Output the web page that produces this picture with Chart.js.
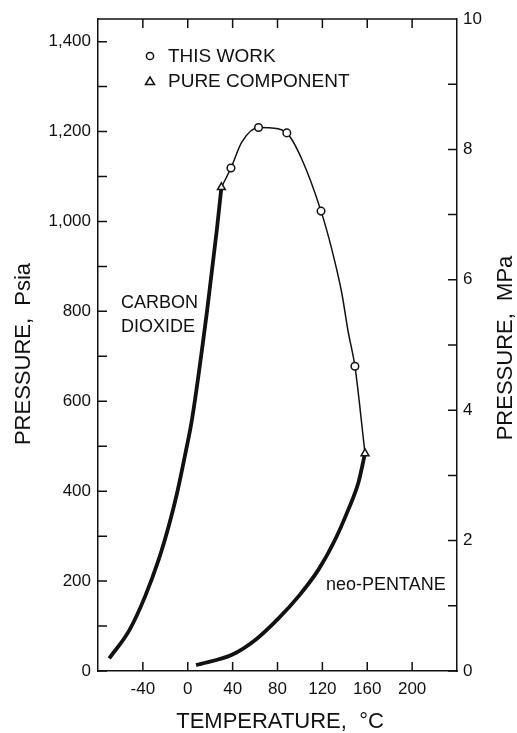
<!DOCTYPE html>
<html><head><meta charset="utf-8">
<script src="https://cdn.jsdelivr.net/npm/chart.js@4.4.1/dist/chart.umd.min.js"></script>
<style>html,body{margin:0;padding:0;background:#fff;} #wrap{width:517px;height:733px;}</style>
</head><body><div id="wrap"><canvas id="c" width="517" height="733"></canvas></div>
<script>
const tempTicks = [-40, 0, 40, 80, 120, 160, 200];
const psiTicks = [0, 200, 400, 600, 800, 1000, 1200, 1400];
const psiMinorTicks = [100, 300, 500, 700, 900, 1100, 1300];
const mpaTicks = [0, 2, 4, 6, 8, 10];
const mpaMinorTicks = [1, 3, 5, 7, 9];

// Carbon dioxide vapour pressure (°C, psia)
const co2T = [-70, -52, -38, -26, -17, -9.5, -2, 3.8, 17.2, 26, 30];
const co2P = [28, 91, 166, 247, 322, 396, 485, 560, 801, 983, 1076];
// neo-Pentane vapour pressure
const neoT = [7.4, 39.4, 60.2, 80.9, 98.7, 116.4, 131.3, 143.1, 152, 158];
const neoP = [13, 36, 69, 117, 166, 225, 292, 359, 418, 484];
// Critical locus (thin line)
const envT = [30, 38.5, 48.3, 63.1, 74.9, 88.3, 101.6, 118.8, 128.3, 137.2, 143.1, 149, 158];
const envP = [1076, 1119, 1177, 1209, 1208, 1197, 1139, 1023, 939, 842, 753, 678, 484];
// Markers
const workT = [38.5, 63.1, 88.3, 118.8, 149];
const workP = [1119, 1209, 1197, 1023, 678];
const pureT = [30, 158];
const pureP = [1076, 484];

const PSI_PER_MPA = 145.0377;
const FONT = "'Liberation Sans', Arial, Helvetica, sans-serif";
const INK = '#111';

const pts = (xs, ys) => xs.map((v, i) => ({x: v, y: ys[i]}));

const framePlugin = {
  id: 'frame',
  afterDraw(chart) {
    const {ctx, chartArea: a, scales: {x, y, y2}} = chart;
    ctx.save();
    ctx.strokeStyle = INK;
    ctx.lineWidth = 1.5;
    ctx.beginPath();
    ctx.moveTo(a.left, a.top); ctx.lineTo(a.right, a.top);
    const L = 9;
    tempTicks.forEach(v => {
      const px = x.getPixelForValue(v);
      ctx.moveTo(px, a.bottom); ctx.lineTo(px, a.bottom - L);
      ctx.moveTo(px, a.top); ctx.lineTo(px, a.top + L);
    });
    psiTicks.concat(psiMinorTicks).forEach(v => {
      const py = y.getPixelForValue(v);
      ctx.moveTo(a.left, py); ctx.lineTo(a.left + L, py);
    });
    mpaTicks.concat(mpaMinorTicks).forEach(v => {
      const py = y2.getPixelForValue(v);
      ctx.moveTo(a.right, py); ctx.lineTo(a.right - L, py);
    });
    ctx.stroke();

    ctx.fillStyle = INK;
    // in-plot labels
    ctx.font = '18px ' + FONT;
    ctx.textAlign = 'left';
    ctx.textBaseline = 'alphabetic';
    ctx.fillText('CARBON', 121, 308);
    ctx.fillText('DIOXIDE', 121, 332);
    ctx.fillText('neo-PENTANE', 326, 590);

    // legend
    ctx.font = '19px ' + FONT;
    ctx.fillText('THIS WORK', 168, 62);
    ctx.fillText('PURE COMPONENT', 168, 87);
    ctx.lineWidth = 1.5;
    ctx.fillStyle = '#fff';
    ctx.beginPath(); ctx.arc(150, 56, 3.6, 0, Math.PI * 2); ctx.fill(); ctx.stroke();
    ctx.beginPath(); ctx.moveTo(150, 77); ctx.lineTo(154.5, 84.5); ctx.lineTo(145.5, 84.5); ctx.closePath(); ctx.fill(); ctx.stroke();

    // axis titles
    ctx.fillStyle = INK;
    ctx.font = '22px ' + FONT;
    ctx.textAlign = 'center';
    ctx.textBaseline = 'middle';
    ctx.fillText('TEMPERATURE,  °C', 280, 722);
    ctx.save(); ctx.translate(24, 354); ctx.rotate(-Math.PI / 2);
    ctx.fillText('PRESSURE,  Psia', 0, 0); ctx.restore();
    ctx.save(); ctx.translate(506, 348); ctx.rotate(-Math.PI / 2);
    ctx.fillText('PRESSURE,  MPa', 0, 0); ctx.restore();
    ctx.restore();
  }
};

const noGrid = {display: false, drawTicks: false, drawOnChartArea: false};
const border = {display: true, color: INK, width: 1.5};
const tickFont = {family: FONT, size: 17};

new Chart(document.getElementById('c'), {
  type: 'scatter',
  data: {
    datasets: [
      {label: 'THIS WORK', data: pts(workT, workP), pointStyle: 'circle', pointRadius: 3.8,
       pointBorderWidth: 1.5, pointBackgroundColor: '#fff', pointBorderColor: INK, showLine: false, order: 0},
      {label: 'PURE COMPONENT', data: pts(pureT, pureP), pointStyle: 'triangle', pointRadius: 4.5,
       pointBorderWidth: 1.5, pointBackgroundColor: '#fff', pointBorderColor: INK, showLine: false, order: 1},
      {label: 'critical locus', data: pts(envT, envP), showLine: true, borderColor: INK, borderWidth: 1.5,
       pointRadius: 0, cubicInterpolationMode: 'monotone', order: 2},
      {label: 'CARBON DIOXIDE', data: pts(co2T, co2P), showLine: true, borderColor: INK, borderWidth: 3.8,
       pointRadius: 0, cubicInterpolationMode: 'monotone', borderCapStyle: 'butt', order: 3},
      {label: 'neo-PENTANE', data: pts(neoT, neoP), showLine: true, borderColor: INK, borderWidth: 3.8,
       pointRadius: 0, cubicInterpolationMode: 'monotone', borderCapStyle: 'butt', order: 4}
    ]
  },
  options: {
    responsive: false,
    animation: false,
    events: [],
    layout: {padding: {top: 19, left: 0, right: 0, bottom: 0}},
    plugins: {legend: {display: false}, tooltip: {enabled: false}},
    scales: {
      x: {
        type: 'linear', position: 'bottom', min: -80, max: 240,
        grid: noGrid, border: border,
        afterBuildTicks: s => { s.ticks = tempTicks.map(v => ({value: v})); },
        afterFit: s => { s.height = 62; },
        ticks: {font: tickFont, color: INK, padding: 8, maxRotation: 0, autoSkip: false}
      },
      y: {
        type: 'linear', position: 'left', min: 0, max: 10 * PSI_PER_MPA,
        grid: noGrid, border: border,
        afterBuildTicks: s => { s.ticks = psiTicks.map(v => ({value: v})); },
        afterFit: s => { s.width = 98; },
        ticks: {font: tickFont, color: INK, padding: 7, autoSkip: false,
                callback: v => Number(v).toLocaleString('en-US')}
      },
      y2: {
        type: 'linear', position: 'right', min: 0, max: 10,
        grid: noGrid, border: border,
        afterBuildTicks: s => { s.ticks = mpaTicks.map(v => ({value: v})); },
        afterFit: s => { s.width = 60; },
        ticks: {font: tickFont, color: INK, padding: 6, autoSkip: false}
      }
    }
  },
  plugins: [framePlugin]
});
</script>
</body></html>
